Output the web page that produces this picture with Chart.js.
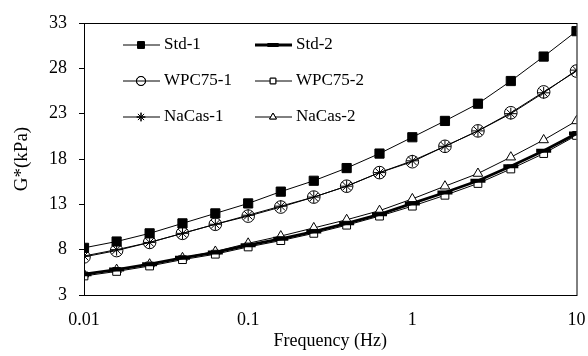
<!DOCTYPE html>
<html>
<head>
<meta charset="utf-8">
<script src="https://cdn.jsdelivr.net/npm/chart.js@4"></script>
<style>
  body { margin: 0; background: #fff; }
  #wrap { width: 588px; height: 356px; }
</style>
</head>
<body>
<div id="wrap"><canvas id="chart"></canvas></div>
<script>
'use strict';

// frequencies, 5 per decade
var freqs = [0.01, 0.0158, 0.0251, 0.0398, 0.0631, 0.1, 0.158, 0.251, 0.398, 0.631, 1, 1.58, 2.51, 3.98, 6.31, 10];

var std1   = [8.2, 8.9, 9.8, 10.9, 12.0, 13.1, 14.4, 15.6, 17.0, 18.6, 20.4, 22.2, 24.1, 26.6, 29.3, 32.1];
var wpc1   = [7.2, 7.9, 8.8, 9.8, 10.8, 11.7, 12.7, 13.8, 15.0, 16.5, 17.7, 19.4, 21.1, 23.1, 25.4, 27.7];
var nacas1 = [7.3, 8.0, 8.8, 9.8, 10.8, 11.8, 12.8, 13.8, 15.0, 16.5, 17.8, 19.4, 21.1, 23.0, 25.3, 27.8];
var std2   = [5.3, 5.8, 6.4, 7.1, 7.7, 8.5, 9.2, 10.0, 10.9, 11.9, 13.1, 14.3, 15.6, 17.2, 18.9, 20.8];
var wpc2   = [5.1, 5.6, 6.2, 6.9, 7.5, 8.3, 9.0, 9.8, 10.7, 11.7, 12.8, 14.0, 15.3, 16.9, 18.6, 20.6];
var nacas2 = [5.3, 5.8, 6.4, 7.1, 7.8, 8.7, 9.5, 10.4, 11.3, 12.3, 13.6, 15.0, 16.4, 18.2, 20.1, 22.2];

var xTicks = [0.01, 0.1, 1, 10];
var yMin = 3, yMax = 33, yStep = 5;

var FONT = '"Liberation Serif", "DejaVu Serif", serif';

function pts(vals) {
  return vals.map(function (v, i) { return { x: freqs[i], y: v }; });
}

function series(label, vals, style, radius, fill, lineW, ptW) {
  return {
    label: label,
    data: pts(vals),
    borderColor: '#000',
    borderWidth: lineW,
    pointStyle: style,
    pointRadius: radius,
    pointHoverRadius: radius,
    pointBackgroundColor: fill,
    pointBorderColor: '#000',
    pointBorderWidth: ptW,
    tension: 0,
    fill: false
  };
}

var datasets = [
  series('Std-1', std1, 'rect', 6.5, '#000', 1, 1),
  series('WPC75-1', wpc1, 'circle', 6.3, 'rgba(0,0,0,0)', 1, 1),
  series('NaCas-1', nacas1, 'star', 6, '#000', 1, 1),
  series('Std-2', std2, 'line', 7.5, '#000', 2.8, 4),
  series('WPC75-2', wpc2, 'rect', 5.5, '#fff', 1, 1),
  series('NaCas-2', nacas2, 'triangle', 5.5, '#fff', 1, 1)
];

// legend inside the plot, two columns
var legendSlots = [
  { ds: 0, col: 0, row: 0 }, { ds: 3, col: 1, row: 0 },
  { ds: 1, col: 0, row: 1 }, { ds: 4, col: 1, row: 1 },
  { ds: 2, col: 0, row: 2 }, { ds: 5, col: 1, row: 2 }
];

var boxAndLegend = {
  id: 'boxAndLegend',
  afterDraw: function (chart) {
    var ctx = chart.ctx;
    var a = chart.chartArea;
    ctx.save();
    ctx.strokeStyle = '#000';
    ctx.lineWidth = 1;
    ctx.strokeRect(a.left + 0.5, a.top + 0.5, a.right - a.left, a.bottom - a.top);

    ctx.font = '17px ' + FONT;
    ctx.textBaseline = 'middle';
    legendSlots.forEach(function (s) {
      var d = chart.data.datasets[s.ds];
      var x0 = a.left + 39 + s.col * 132;
      var y = a.top + 22 + s.row * 36;
      ctx.strokeStyle = '#000';
      ctx.lineWidth = d.borderWidth;
      ctx.beginPath();
      ctx.moveTo(x0, y);
      ctx.lineTo(x0 + 37, y);
      ctx.stroke();
      ctx.fillStyle = d.pointBackgroundColor;
      ctx.lineWidth = d.pointBorderWidth;
      Chart.helpers.drawPoint(ctx, {
        pointStyle: d.pointStyle,
        radius: d.pointRadius * 0.72,
        borderWidth: d.pointBorderWidth,
        rotation: 0
      }, x0 + 18, y);
      if (d.pointStyle !== 'line') ctx.fill();
      ctx.stroke();
      ctx.fillStyle = '#000';
      ctx.fillText(d.label, x0 + 41, y);
    });
    ctx.restore();
  }
};

new Chart(document.getElementById('chart'), {
  type: 'line',
  data: { datasets: datasets },
  options: {
    responsive: true,
    maintainAspectRatio: false,
    animation: false,
    layout: { padding: { top: 23, right: 11, left: 0, bottom: 0 } },
    plugins: {
      legend: { display: false },
      tooltip: { enabled: false }
    },
    scales: {
      x: {
        type: 'logarithmic',
        min: 0.01,
        max: 10,
        afterBuildTicks: function (scale) {
          scale.ticks = xTicks.map(function (v) { return { value: v }; });
        },
        afterFit: function (scale) {
          scale.height = 61;
          scale.paddingLeft = 0;
          scale.paddingRight = 0;
        },
        ticks: {
          color: '#000',
          font: { family: FONT, size: 18 },
          padding: 14,
          maxRotation: 0,
          autoSkip: false,
          callback: function (v) { return String(v); }
        },
        grid: { display: true, drawOnChartArea: false, drawTicks: false, color: '#000' },
        border: { display: true, color: '#000', width: 1 },
        title: {
          display: true,
          text: 'Frequency (Hz)',
          color: '#000',
          font: { family: FONT, size: 18 },
          padding: { top: 2, bottom: 4 }
        }
      },
      y: {
        min: yMin,
        max: yMax,
        afterFit: function (scale) { scale.width = 84; },
        ticks: {
          stepSize: yStep,
          color: '#000',
          font: { family: FONT, size: 18 },
          padding: 12
        },
        grid: { display: true, drawOnChartArea: false, drawTicks: true, tickLength: 5, color: '#000' },
        border: { display: true, color: '#000', width: 1 },
        title: {
          display: true,
          text: 'G*(kPa)',
          color: '#000',
          font: { family: FONT, size: 19 },
          padding: { top: 11, bottom: 4 }
        }
      }
    }
  },
  plugins: [boxAndLegend]
});
</script>
</body>
</html>
